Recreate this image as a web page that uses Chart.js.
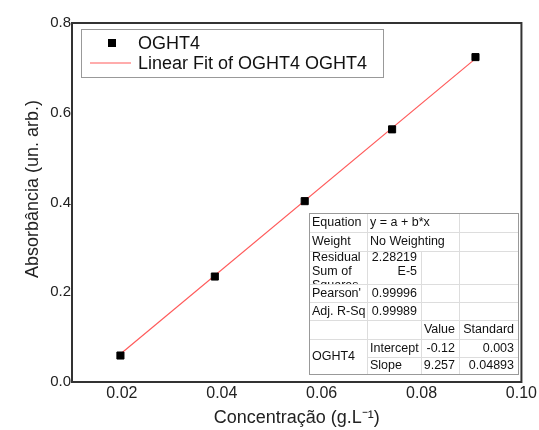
<!DOCTYPE html>
<html>
<head>
<meta charset="utf-8">
<script src="https://cdn.jsdelivr.net/npm/chart.js@4.4.1/dist/chart.umd.min.js"></script>
<style>
  html, body { margin: 0; padding: 0; background: #fff; }
  #wrap { width: 539px; height: 430px; }
</style>
</head>
<body>
<div id="wrap"><canvas id="chart" width="539" height="430"></canvas></div>
<script>
// measured samples
const concentration = [0.0197, 0.0386, 0.0566, 0.0741, 0.0908];
const absorbance = [0.059, 0.235, 0.403, 0.563, 0.724];

// axis ticks
const xTicks = [0.02, 0.04, 0.06, 0.08, 0.10];
const yTicks = [0.0, 0.2, 0.4, 0.6, 0.8];

// linear fit results
const fitParams = ['Intercept', 'Slope'];
const fitValues = [-0.12, 9.257];
const fitErrors = [0.003, 0.04893];
const statLabels = ['Equation', 'Weight', 'Residual\nSum of\nSquares', "Pearson'", 'Adj. R-Sq'];
const statValues = ['y = a + b*x', 'No Weighting', '2.28219\nE-5', '0.99996', '0.99989'];

const FONT = '"Liberation Sans", Arial, sans-serif';

// fit line spans the measured range
const xFit = [Math.min(...concentration), Math.max(...concentration)];
const fitLine = xFit.map(x => ({ x: x, y: fitValues[0] + fitValues[1] * x }));

const frameAndBoxes = {
    id: 'frameAndBoxes',
    afterDraw(chart) {
        const ctx = chart.ctx;
        const a = chart.chartArea;

        // plot frame
        ctx.save();
        ctx.strokeStyle = '#333';
        ctx.lineWidth = 2;
        ctx.strokeRect(a.left, a.top, a.right - a.left, a.bottom - a.top);
        ctx.restore();

        // y axis title, sits a bit above the centre
        ctx.save();
        ctx.translate(33, 189);
        ctx.rotate(-Math.PI / 2);
        ctx.fillStyle = '#222';
        ctx.font = '18px ' + FONT;
        ctx.textAlign = 'center';
        ctx.textBaseline = 'middle';
        ctx.fillText('Absorbância (un. arb.)', 0, 0);
        ctx.restore();

        // legend box
        ctx.save();
        ctx.fillStyle = '#fff';
        ctx.fillRect(81, 29, 302, 48);
        ctx.strokeStyle = '#999';
        ctx.lineWidth = 1;
        ctx.strokeRect(81.5, 29.5, 302, 48);
        ctx.fillStyle = '#000';
        ctx.fillRect(108, 39, 8, 8);
        ctx.strokeStyle = 'rgb(255, 90, 90)';
        ctx.lineWidth = 1.2;
        ctx.beginPath();
        ctx.moveTo(90, 63);
        ctx.lineTo(131, 63);
        ctx.stroke();
        ctx.fillStyle = '#111';
        ctx.font = '18px ' + FONT;
        ctx.textBaseline = 'middle';
        ctx.textAlign = 'left';
        ctx.fillText('OGHT4', 138, 44);
        ctx.fillText('Linear Fit of OGHT4 OGHT4', 138, 64);
        ctx.restore();

        // fit statistics table
        const cols = [309, 367, 421, 459, 518];
        const rows = [213, 232, 251, 284, 302, 320, 339, 357, 374];
        ctx.save();
        ctx.fillStyle = '#fff';
        ctx.fillRect(cols[0], rows[0], cols[4] - cols[0], rows[8] - rows[0]);

        ctx.strokeStyle = '#ddd';
        ctx.lineWidth = 1;
        ctx.beginPath();
        for (let i = 1; i < 8; i++) {
            const x0 = i === 7 ? cols[1] : cols[0];
            ctx.moveTo(x0, rows[i] + 0.5);
            ctx.lineTo(cols[4], rows[i] + 0.5);
        }
        ctx.moveTo(cols[1] + 0.5, rows[0]); ctx.lineTo(cols[1] + 0.5, rows[8]);
        ctx.moveTo(cols[2] + 0.5, rows[2]); ctx.lineTo(cols[2] + 0.5, rows[8]);
        ctx.moveTo(cols[3] + 0.5, rows[0]); ctx.lineTo(cols[3] + 0.5, rows[8]);
        ctx.stroke();
        ctx.strokeStyle = '#999';
        ctx.strokeRect(cols[0] + 0.5, rows[0] + 0.5, cols[4] - cols[0], rows[8] - rows[0]);

        ctx.fillStyle = '#111';
        ctx.font = '12.5px ' + FONT;
        ctx.textBaseline = 'middle';

        const cellText = (text, r, c, align, span = 1) => {
            const lines = text.split('\n');
            const top = rows[r], bottom = rows[r + 1];
            const left = cols[c], right = cols[c + span];
            ctx.save();
            ctx.beginPath();
            ctx.rect(left, top, right - left, bottom - top);
            ctx.clip();
            ctx.textAlign = align;
            const x = align === 'right' ? right - 4 : left + 3;
            const y0 = lines.length > 1 ? top + 7 : (top + bottom) / 2 + 0.5;
            lines.forEach((ln, k) => ctx.fillText(ln, x, y0 + k * 14));
            ctx.restore();
        };

        statLabels.forEach((lab, i) => {
            cellText(lab, i, 0, 'left');
            // equation and weighting span two columns
            if (i < 2) cellText(statValues[i], i, 1, 'left', 2);
            else cellText(statValues[i], i, 1, 'right');
        });
        cellText('Value', 5, 2, 'right');
        cellText('Standard', 5, 3, 'right');
        ctx.textAlign = 'left';
        ctx.fillText('OGHT4', cols[0] + 3, (rows[6] + rows[8]) / 2 + 0.5);
        fitParams.forEach((p, i) => {
            cellText(p, 6 + i, 1, 'left');
            cellText(String(fitValues[i]), 6 + i, 2, 'right');
            cellText(String(fitErrors[i]), 6 + i, 3, 'right');
        });
        ctx.restore();
    }
};

new Chart(document.getElementById('chart'), {
    type: 'scatter',
    data: {
        datasets: [{
            label: 'OGHT4',
            data: concentration.map((x, i) => ({ x: x, y: absorbance[i] })),
            pointStyle: 'rect',
            pointRadius: 5,
            pointHoverRadius: 5,
            backgroundColor: '#000',
            borderColor: '#000',
            borderWidth: 1
        }, {
            label: 'Linear Fit of OGHT4 OGHT4',
            type: 'line',
            data: fitLine,
            borderColor: 'rgb(255, 90, 90)',
            borderWidth: 1.2,
            pointRadius: 0,
            fill: false
        }]
    },
    options: {
        responsive: false,
        animation: false,
        devicePixelRatio: 1,
        layout: { padding: { top: 23, right: 17, left: 0, bottom: 0 } },
        plugins: {
            legend: { display: false },
            tooltip: { enabled: false }
        },
        scales: {
            x: {
                type: 'linear',
                min: 0.01,
                max: 0.10,
                afterBuildTicks: s => { s.ticks = xTicks.map(v => ({ value: v })); },
                afterFit: s => { s.height = 48; },
                grid: { display: false, drawTicks: false },
                border: { display: false },
                ticks: {
                    padding: 2,
                    color: '#222',
                    font: { family: FONT, size: 16 },
                    callback: v => v.toFixed(2)
                },
                title: {
                    display: true,
                    text: 'Concentração (g.L\u207B\u00B9)',
                    color: '#222',
                    font: { family: FONT, size: 18 },
                    padding: { top: 0, bottom: 1 }
                }
            },
            y: {
                min: 0,
                max: 0.8,
                afterBuildTicks: s => { s.ticks = yTicks.map(v => ({ value: v })); },
                afterFit: s => { s.width = 72; },
                grid: { display: false, drawTicks: false },
                border: { display: false },
                ticks: {
                    padding: 1,
                    color: '#222',
                    font: { family: FONT, size: 15 },
                    callback: v => v.toFixed(1)
                },
                title: { display: false }
            }
        }
    },
    plugins: [frameAndBoxes]
});
</script>
</body>
</html>
